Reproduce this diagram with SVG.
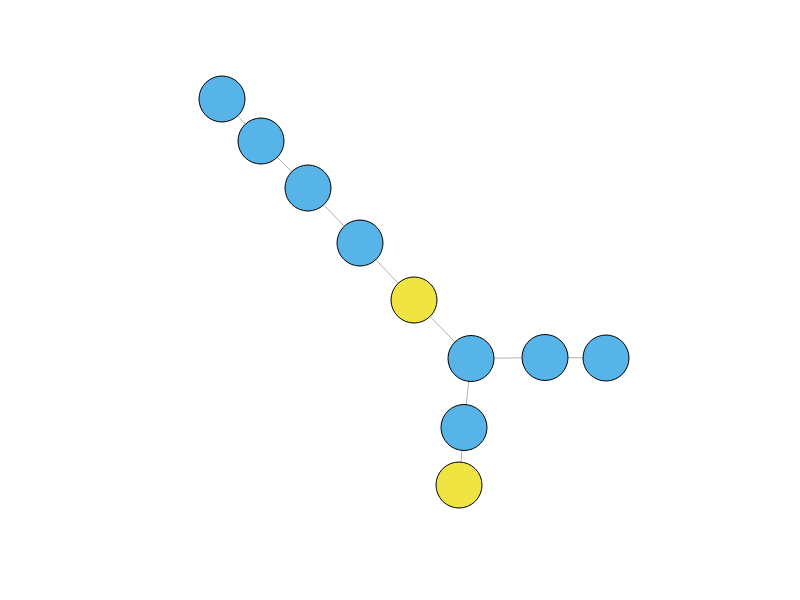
<svg xmlns="http://www.w3.org/2000/svg" width="800" height="600" viewBox="0 0 800 600">
<style>
.e{stroke:#b3b3b3;stroke-width:1;fill:none}
.n{stroke:#000;stroke-width:1}
.b{fill:#56B4E9}
.y{fill:#F0E442}
</style>
<rect width="800" height="600" fill="#fff"/>
<g id="edges">
<line class="e" x1="222" y1="99" x2="261" y2="141"/>
<line class="e" x1="261" y1="141" x2="308" y2="188"/>
<line class="e" x1="308" y1="188" x2="360" y2="243"/>
<line class="e" x1="360" y1="243" x2="414" y2="300"/>
<line class="e" x1="414" y1="300" x2="471" y2="358.5"/>
<line class="e" x1="471" y1="358.5" x2="545" y2="357.5"/>
<line class="e" x1="545" y1="357.5" x2="606" y2="358"/>
<line class="e" x1="471" y1="358.5" x2="464" y2="427.5"/>
<line class="e" x1="464" y1="427.5" x2="459" y2="485"/>
</g>
<g id="n1"><circle class="n b" cx="222" cy="99" r="23"/></g>
<g id="n2"><circle class="n b" cx="261" cy="141" r="23"/></g>
<g id="n3"><circle class="n b" cx="308" cy="188" r="23"/></g>
<g id="n4"><circle class="n b" cx="360" cy="243" r="23"/></g>
<g id="n5"><circle class="n y" cx="414" cy="300" r="23"/></g>
<g id="n6"><circle class="n b" cx="471" cy="358.5" r="23"/></g>
<g id="n7"><circle class="n b" cx="545" cy="357.5" r="23"/></g>
<g id="n8"><circle class="n b" cx="606" cy="358" r="23"/></g>
<g id="n9"><circle class="n b" cx="464" cy="427.5" r="23"/></g>
<g id="n10"><circle class="n y" cx="459" cy="485" r="23"/></g>
</svg>
